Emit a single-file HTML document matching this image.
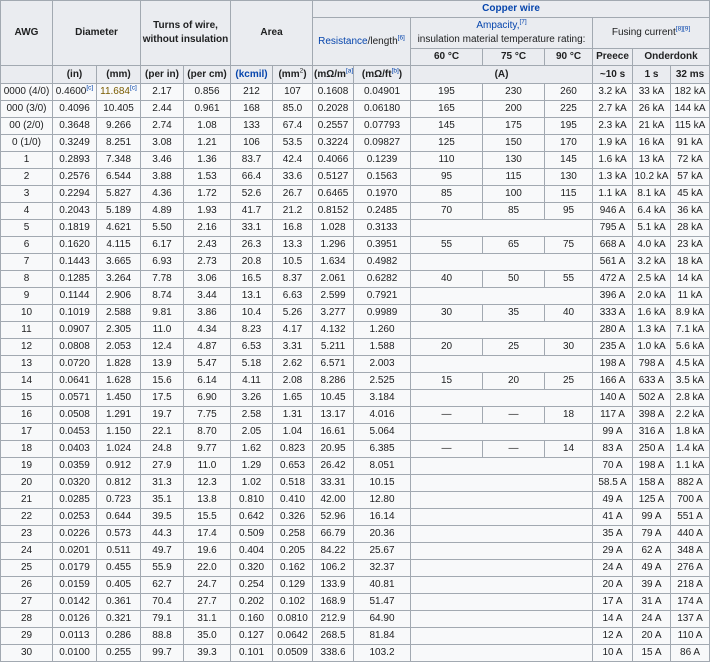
<!DOCTYPE html>
<html><head><meta charset="utf-8">
<style>
html,body{margin:0;padding:0;background:#fff;}
table{border-collapse:collapse;table-layout:fixed;width:709px;font-family:"Liberation Sans",Arial,sans-serif;font-size:10px;color:#202122;background:#f8f9fa;position:absolute;left:0;top:0;}
td,th{border:1px solid #a2a9b1;padding:0 1px;text-align:center;white-space:nowrap;overflow:hidden;line-height:12px;}
th{background:#eaecf0;font-weight:bold;}
tbody td{height:16px;}
sup{font-size:6.5px;line-height:0;font-weight:normal;color:#0645ad;}
.lnk{color:#0645ad;}
</style></head><body>
<table>
<colgroup>
<col style="width:52px"><col style="width:44px"><col style="width:44px"><col style="width:43px"><col style="width:47px"><col style="width:42px"><col style="width:40px"><col style="width:41px"><col style="width:57px"><col style="width:72px"><col style="width:62px"><col style="width:48px"><col style="width:40px"><col style="width:38px"><col style="width:39px">
</colgroup>
<thead>
<tr style="height:17px">
<th rowspan="3">AWG</th>
<th rowspan="3" colspan="2">Diameter</th>
<th rowspan="3" colspan="2" style="line-height:14px">Turns of wire,<br>without insulation</th>
<th rowspan="3" colspan="2">Area</th>
<th colspan="8"><span class="lnk">Copper wire</span></th>
</tr>
<tr style="height:31px">
<th rowspan="2" colspan="2" style="font-weight:normal"><span class="lnk">Resistance</span>/length<sup>[6]</sup></th>
<th colspan="3" style="font-weight:normal;line-height:14px"><span class="lnk">Ampacity,</span><sup>[7]</sup><br>insulation material temperature rating:</th>
<th colspan="3" style="font-weight:normal">Fusing current<sup>[8][9]</sup></th>
</tr>
<tr style="height:17px">
<th>60 °C</th>
<th>75 °C</th>
<th>90 °C</th>
<th>Preece</th>
<th colspan="2">Onderdonk</th>
</tr>
<tr style="height:18px">
<th></th>
<th>(in)</th>
<th>(mm)</th>
<th>(per in)</th>
<th>(per cm)</th>
<th><span class="lnk">(kcmil)</span></th>
<th>(mm<sup style="color:#202122">2</sup>)</th>
<th>(mΩ/m<sup>[a]</sup>)</th>
<th>(mΩ/ft<sup>[b]</sup>)</th>
<th colspan="3">(A)</th>
<th>~10 s</th>
<th>1 s</th>
<th>32 ms</th>
</tr>
</thead>
<tbody id="tb"></tbody>
</table>
<script>
const awg=["0000 (4/0)","000 (3/0)","00 (2/0)","0 (1/0)","1","2","3","4","5","6","7","8","9","10","11","12","13","14","15","16","17","18","19","20","21","22","23","24","25","26","27","28","29","30"];
const dIn=["0.4600","0.4096","0.3648","0.3249","0.2893","0.2576","0.2294","0.2043","0.1819","0.1620","0.1443","0.1285","0.1144","0.1019","0.0907","0.0808","0.0720","0.0641","0.0571","0.0508","0.0453","0.0403","0.0359","0.0320","0.0285","0.0253","0.0226","0.0201","0.0179","0.0159","0.0142","0.0126","0.0113","0.0100"];
const dMm=["11.684","10.405","9.266","8.251","7.348","6.544","5.827","5.189","4.621","4.115","3.665","3.264","2.906","2.588","2.305","2.053","1.828","1.628","1.450","1.291","1.150","1.024","0.912","0.812","0.723","0.644","0.573","0.511","0.455","0.405","0.361","0.321","0.286","0.255"];
const tIn=["2.17","2.44","2.74","3.08","3.46","3.88","4.36","4.89","5.50","6.17","6.93","7.78","8.74","9.81","11.0","12.4","13.9","15.6","17.5","19.7","22.1","24.8","27.9","31.3","35.1","39.5","44.3","49.7","55.9","62.7","70.4","79.1","88.8","99.7"];
const tCm=["0.856","0.961","1.08","1.21","1.36","1.53","1.72","1.93","2.16","2.43","2.73","3.06","3.44","3.86","4.34","4.87","5.47","6.14","6.90","7.75","8.70","9.77","11.0","12.3","13.8","15.5","17.4","19.6","22.0","24.7","27.7","31.1","35.0","39.3"];
const kcmil=["212","168","133","106","83.7","66.4","52.6","41.7","33.1","26.3","20.8","16.5","13.1","10.4","8.23","6.53","5.18","4.11","3.26","2.58","2.05","1.62","1.29","1.02","0.810","0.642","0.509","0.404","0.320","0.254","0.202","0.160","0.127","0.101"];
const mm2=["107","85.0","67.4","53.5","42.4","33.6","26.7","21.2","16.8","13.3","10.5","8.37","6.63","5.26","4.17","3.31","2.62","2.08","1.65","1.31","1.04","0.823","0.653","0.518","0.410","0.326","0.258","0.205","0.162","0.129","0.102","0.0810","0.0642","0.0509"];
const rM=["0.1608","0.2028","0.2557","0.3224","0.4066","0.5127","0.6465","0.8152","1.028","1.296","1.634","2.061","2.599","3.277","4.132","5.211","6.571","8.286","10.45","13.17","16.61","20.95","26.42","33.31","42.00","52.96","66.79","84.22","106.2","133.9","168.9","212.9","268.5","338.6"];
const rFt=["0.04901","0.06180","0.07793","0.09827","0.1239","0.1563","0.1970","0.2485","0.3133","0.3951","0.4982","0.6282","0.7921","0.9989","1.260","1.588","2.003","2.525","3.184","4.016","5.064","6.385","8.051","10.15","12.80","16.14","20.36","25.67","32.37","40.81","51.47","64.90","81.84","103.2"];
const amp60=["195","165","145","125","110","95","85","70","","55","","40","","30","","20","","15","","—","","—","","","","","","","","","","","",""];
const amp75=["230","200","175","150","130","115","100","85","","65","","50","","35","","25","","20","","—","","—","","","","","","","","","","","",""];
const amp90=["260","225","195","170","145","130","115","95","","75","","55","","40","","30","","25","","18","","14","","","","","","","","","","","",""];
const preece=["3.2 kA","2.7 kA","2.3 kA","1.9 kA","1.6 kA","1.3 kA","1.1 kA","946 A","795 A","668 A","561 A","472 A","396 A","333 A","280 A","235 A","198 A","166 A","140 A","117 A","99 A","83 A","70 A","58.5 A","49 A","41 A","35 A","29 A","24 A","20 A","17 A","14 A","12 A","10 A"];
const ond1=["33 kA","26 kA","21 kA","16 kA","13 kA","10.2 kA","8.1 kA","6.4 kA","5.1 kA","4.0 kA","3.2 kA","2.5 kA","2.0 kA","1.6 kA","1.3 kA","1.0 kA","798 A","633 A","502 A","398 A","316 A","250 A","198 A","158 A","125 A","99 A","79 A","62 A","49 A","39 A","31 A","24 A","20 A","15 A"];
const ond32=["182 kA","144 kA","115 kA","91 kA","72 kA","57 kA","45 kA","36 kA","28 kA","23 kA","18 kA","14 kA","11 kA","8.9 kA","7.1 kA","5.6 kA","4.5 kA","3.5 kA","2.8 kA","2.2 kA","1.8 kA","1.4 kA","1.1 kA","882 A","700 A","551 A","440 A","348 A","276 A","218 A","174 A","137 A","110 A","86 A"];
const tb=document.getElementById('tb');
function cell(tr,txt,name){
  const td=document.createElement('td');
  
  
  td.textContent=txt;
  tr.appendChild(td);
  return td;
}
for(let i=0;i<awg.length;i++){
  const tr=document.createElement('tr');
  
  
  cell(tr,awg[i],'awg-cell');
  const a=cell(tr,dIn[i],'diameter-in-cell');
  const b=cell(tr,dMm[i],'diameter-mm-cell');
  if(i===0){a.innerHTML+='<sup>[c]</sup>';b.innerHTML+='<sup>[c]</sup>';b.style.color='#7a5c00';}
  cell(tr,tIn[i],'turns-per-in-cell');
  cell(tr,tCm[i],'turns-per-cm-cell');
  cell(tr,kcmil[i],'area-kcmil-cell');
  cell(tr,mm2[i],'area-mm2-cell');
  cell(tr,rM[i],'resistance-m-cell');
  cell(tr,rFt[i],'resistance-ft-cell');
  if(amp60[i]===''&&amp90[i]===''){
    const e=cell(tr,'','ampacity-empty-cell');
    e.colSpan=3;
  } else {
    cell(tr,amp60[i],'ampacity-60-cell');
    cell(tr,amp75[i],'ampacity-75-cell');
    cell(tr,amp90[i],'ampacity-90-cell');
  }
  cell(tr,preece[i],'preece-cell');
  cell(tr,ond1[i],'onderdonk-1s-cell');
  cell(tr,ond32[i],'onderdonk-32ms-cell');
  tb.appendChild(tr);
}
</script>
</body></html>
